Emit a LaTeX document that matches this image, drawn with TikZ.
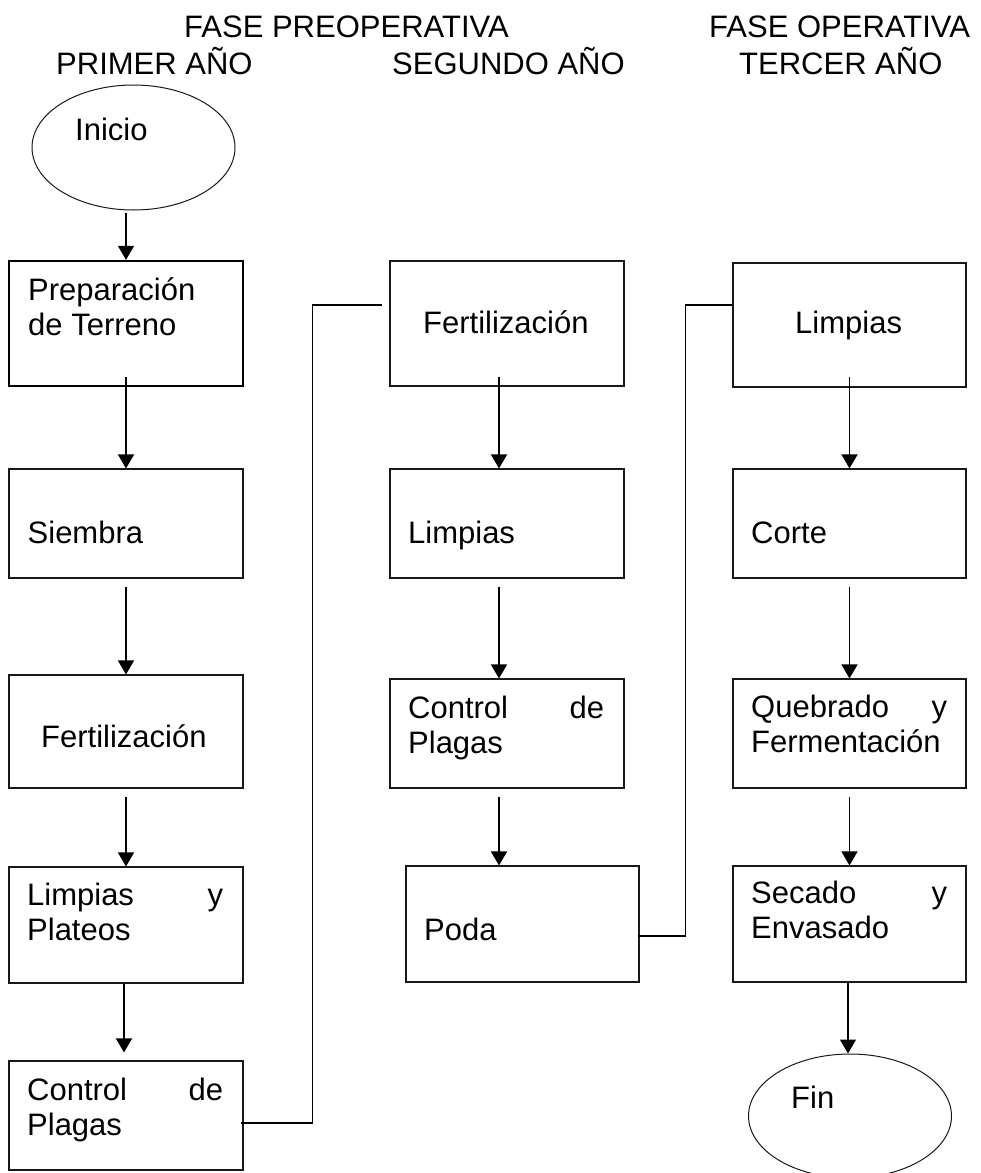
\documentclass[tikz,border=0pt]{standalone}
\usepackage{fontspec}
\setmainfont{Liberation Sans}
\usetikzlibrary{arrows.meta,shapes.geometric}
\begin{document}
\begin{tikzpicture}[x=1pt,y=-1pt,
  every node/.style={font=\fontsize{31}{35.5}\selectfont},
  box/.style={draw=black!90, line width=1.1pt, rectangle, inner sep=0pt, minimum width=234pt},
  thickbox/.style={box, draw=black, line width=2.3pt},
  term/.style={draw=black!90, line width=1pt, ellipse, inner sep=0pt, minimum width=203pt, minimum height=125pt},
  txt/.style={anchor=base west, inner sep=0pt},
  arr/.style={line width=1.4pt, -{Triangle[width=16pt,length=14pt]}},
  link/.style={line width=1.4pt}]
\useasboundingbox (0,0) rectangle (981,1173);
\clip (0,0) rectangle (981,1173);

% headers
\node[txt] (h1) at (184,37) {FASE PREOPERATIVA};
\node[txt] (h2) at (56,74) {PRIMER AÑO};
\node[txt] (h3) at (392,74) {SEGUNDO AÑO};
\node[txt] (h4) at (709,37) {FASE OPERATIVA};
\node[txt] (h5) at (739,74) {TERCER AÑO};

% column 1
\node[term] (inicio) at (133.5,147.5) {};
\node[txt] (tinicio) at (75,140) {Inicio};
\node[thickbox, minimum height=125pt] (prep) at (126,323.5) {};
\node[txt] (tprep) at (28,300) {\parbox[t]{200pt}{Preparación\\de Terreno}};
\node[box, minimum height=109pt] (siembra) at (126,523.5) {};
\node[txt] (tsiembra) at (27.5,543) {Siembra};
\node[box, minimum height=113pt] (fert1) at (126,731.5) {};
\node[txt] (tfert1) at (41,747) {Fertilización};
\node[box, minimum height=116pt] (lyp) at (126,925) {};
\node[txt] (tlyp) at (27,905) {\parbox[t]{196pt}{Limpias\hfill y\\Plateos}};
\node[box, minimum height=109pt] (cdp1) at (126,1115.5) {};
\node[txt] (tcdp1) at (27,1100) {\parbox[t]{196pt}{Control\hfill de\\Plagas}};

% column 2
\node[box, minimum height=125pt] (fert2) at (507,323.5) {};
\node[txt] (tfert2) at (423,333) {Fertilización};
\node[box, minimum height=109pt] (limp2) at (507,523.5) {};
\node[txt] (tlimp2) at (408,543) {Limpias};
\node[box, minimum height=109pt] (cdp2) at (507,733.5) {};
\node[txt] (tcdp2) at (408,718) {\parbox[t]{196pt}{Control\hfill de\\Plagas}};
\node[box, minimum width=233pt, minimum height=116pt] (poda) at (522.5,924) {};
\node[txt] (tpoda) at (424,940) {Poda};

% column 3
\node[box, minimum width=233pt, minimum height=124pt] (limp3) at (849.5,325) {};
\node[txt] (tlimp3) at (795,333) {Limpias};
\node[box, minimum width=233pt, minimum height=109pt] (corte) at (849.5,523.5) {};
\node[txt] (tcorte) at (751,543) {Corte};
\node[box, minimum width=233pt, minimum height=109pt] (queb) at (849.5,733.5) {};
\node[txt] (tqueb) at (751,717) {\parbox[t]{196pt}{Quebrado\hfill y\\Fermentación}};
\node[box, minimum width=233pt, minimum height=116pt] (secado) at (849.5,924) {};
\node[txt] (tsecado) at (751,903) {\parbox[t]{196pt}{Secado\hfill y\\Envasado}};
\node[term, minimum height=124pt] (fin) at (850,1116) {};
\node[txt] (tfin) at (791,1108) {Fin};

% arrows column 1
\draw[arr] ([yshift=-2pt]prep.north |- inicio.south) -- (prep.north);
\draw[arr] ([yshift=10pt]prep.south) -- (siembra.north);
\draw[arr] ([yshift=-8pt]siembra.south) -- (fert1.north);
\draw[arr] ([yshift=-8pt]fert1.south) -- (lyp.north);
\draw[arr] ([xshift=-2pt]lyp.south) -- ([xshift=-2pt,yshift=8pt]cdp1.north);

% arrows column 2
\draw[arr] ([xshift=-8pt,yshift=10pt]fert2.south) -- ([xshift=-8pt]limp2.north);
\draw[arr] ([xshift=-8pt,yshift=-8pt]limp2.south) -- ([xshift=-8pt]cdp2.north);
\draw[arr] ([xshift=-8pt,yshift=-8pt]cdp2.south) -- ([xshift=-8pt]cdp2.south |- poda.north);

% arrows column 3
\draw[arr] ([yshift=11pt]limp3.south) -- (corte.north);
\draw[arr] ([yshift=-8pt]corte.south) -- (queb.north);
\draw[arr] ([yshift=-8pt]queb.south) -- (secado.north);
\draw[arr] ([xshift=-1.5pt]secado.south) -- ([xshift=-2pt]fin.north);

% connectors between columns
\draw[link] ([xshift=-3pt,yshift=-7.5pt]cdp1.east) -- ++(72,0) |- ([xshift=-7pt,yshift=18.5pt]fert2.west);
\draw[link] ([xshift=-2pt,yshift=-12pt]poda.east) -- ++(48,0) |- ([yshift=20pt]limp3.west);
\end{tikzpicture}
\end{document}
